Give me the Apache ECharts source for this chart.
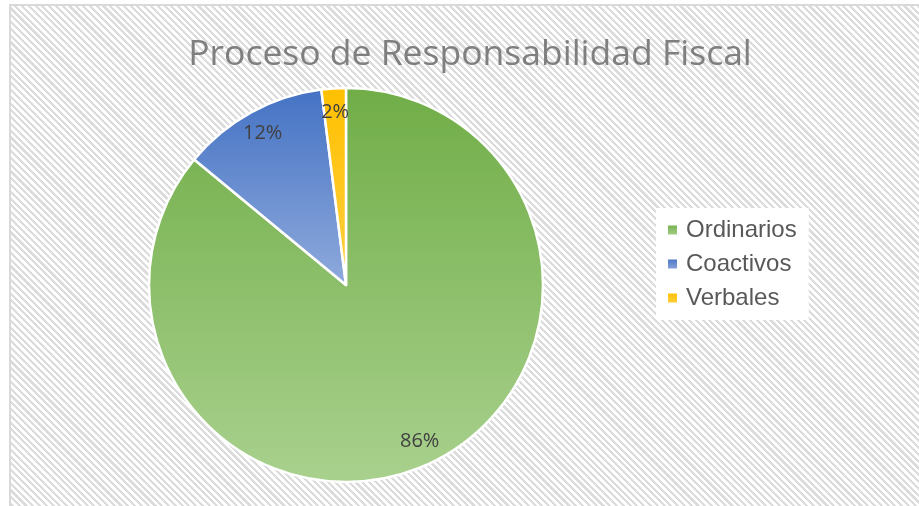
<!DOCTYPE html>
<html>
<head>
<meta charset="utf-8">
<script src="https://cdn.jsdelivr.net/npm/echarts@6/dist/echarts.min.js"></script>
<style>
  html, body { margin: 0; padding: 0; background: #ffffff; }
  #frame {
    position: absolute; left: 9px; top: 4px; width: 930px; height: 520px;
    border-left: 2px solid #d9d9d9; border-top: 2px solid #d9d9d9;
    background: repeating-linear-gradient(45deg, #dcdcdc 0px, #dcdcdc 2.2px, #ffffff 2.2px, #ffffff 4.8px);
  }
  #chart { position: absolute; left: 0; top: 0; width: 919px; height: 506px; }
</style>
</head>
<body>
<div id="frame"></div>
<div id="chart"></div>
<script>
const titleText = 'Proceso de Responsabilidad Fiscal';
const categories = ['Ordinarios', 'Coactivos', 'Verbales'];
const values = [86, 12, 2];

const fills = [
  ['#70ad47', '#a9d18e'],
  ['#4472c4', '#8faadc'],
  ['#ffc000', '#ffcf40']
];

function grad(c) {
  return new echarts.graphic.LinearGradient(0, 0, 0, 1, [
    { offset: 0, color: c[0] }, { offset: 1, color: c[1] }
  ]);
}

const chart = echarts.init(document.getElementById('chart'), null, { renderer: 'canvas' });

const mainData = categories.map((n, i) => ({
  name: n, value: values[i], itemStyle: { color: grad(fills[i]) }
}));
const labelData = categories.map((n, i) => ({ name: n, value: values[i] }));

chart.setOption({
  backgroundColor: 'transparent',
  animation: false,
  title: {
    text: titleText,
    left: 465,
    top: 32,
    textAlign: 'center',
    textStyle: { fontFamily: 'Open Sans', fontSize: 35.5, fontWeight: 'normal', color: '#7f7f7f' }
  },
  legend: {
    orient: 'vertical',
    left: 656,
    top: 208,
    data: categories,
    icon: 'rect',
    itemWidth: 11,
    itemHeight: 11,
    itemGap: 10,
    backgroundColor: '#ffffff',
    padding: [10, 12, 10, 10],
    textStyle: { fontFamily: 'Liberation Sans', fontSize: 24, color: '#595959', lineHeight: 24, padding: [0, 0, 0, 3] }
  },
  series: [
    {
      type: 'pie',
      center: [346, 285],
      radius: [0, 197],
      startAngle: 90,
      clockwise: true,
      data: mainData,
      label: { show: false },
      labelLine: { show: false },
      itemStyle: { borderColor: '#ffffff', borderWidth: 2.5 },
      emphasis: { disabled: true }
    },
    {
      type: 'pie',
      silent: true,
      center: [346, 285],
      radius: [143, 197],
      startAngle: 90,
      clockwise: true,
      percentPrecision: 0,
      avoidLabelOverlap: false,
      data: labelData,
      itemStyle: { color: 'rgba(0,0,0,0)' },
      label: {
        show: true, position: 'inside', formatter: '{d}%',
        fontFamily: 'Open Sans', fontSize: 20, color: '#404040'
      },
      labelLine: { show: false },
      emphasis: { disabled: true }
    }
  ]
});
</script>
</body>
</html>
